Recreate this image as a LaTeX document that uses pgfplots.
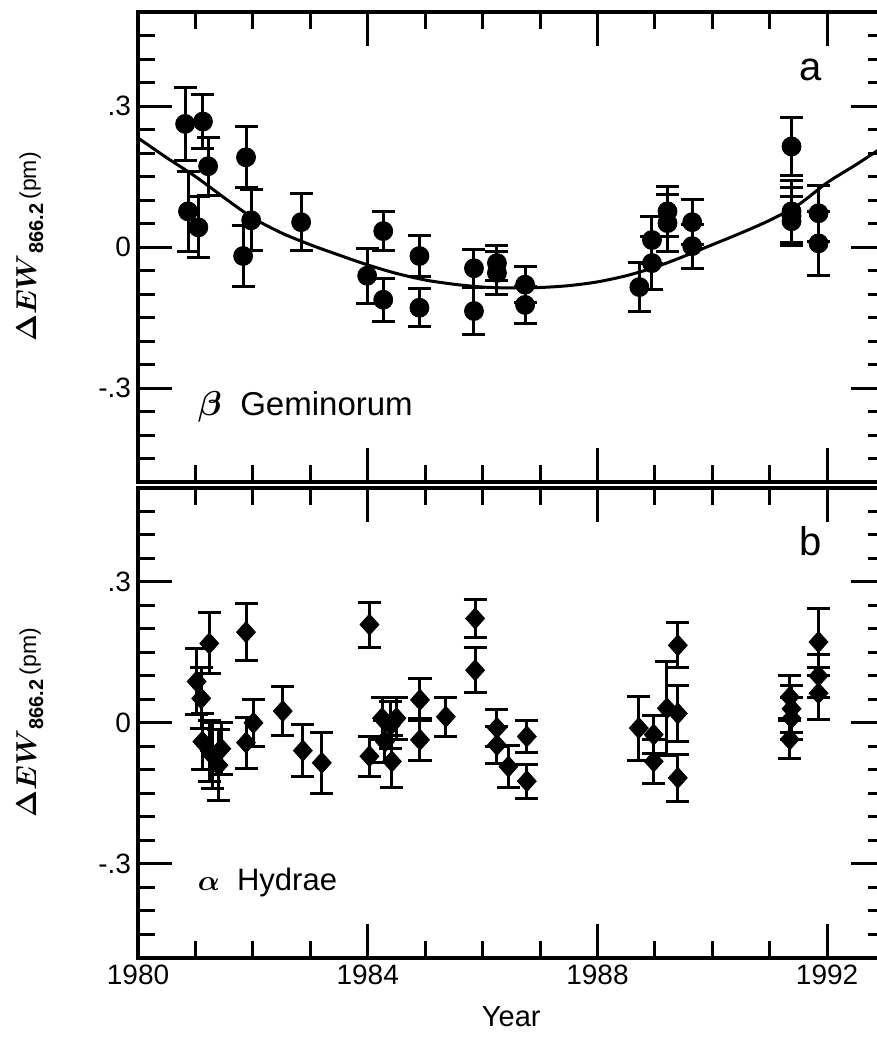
\documentclass[border=0pt]{standalone}
\usepackage{fontspec}
\setmainfont{Liberation Sans}
\usepackage{pgfplots}
\pgfplotsset{compat=1.18}
\usepackage{pgfplotstable}

\pgfplotstableread{
x y e
1980.82 0.262 0.078
1981.13 0.267 0.058
1981.22 0.172 0.062
1980.87 0.076 0.085
1981.05 0.042 0.065
1981.88 0.191 0.065
1981.97 0.057 0.065
1981.83 -0.019 0.065
1982.84 0.053 0.060
1984.27 0.034 0.042
1983.99 -0.061 0.058
1984.27 -0.112 0.046
1984.90 -0.019 0.043
1984.90 -0.129 0.040
1985.85 -0.045 0.040
1985.85 -0.136 0.050
1986.25 -0.034 0.038
1986.25 -0.055 0.045
1986.74 -0.080 0.038
1986.74 -0.123 0.040
1988.73 -0.085 0.053
1988.95 -0.034 0.056
1988.95 0.015 0.050
1989.22 0.076 0.053
1989.22 0.051 0.060
1989.65 0.053 0.048
1989.65 0.002 0.047
1991.38 0.214 0.062
1991.38 0.076 0.066
1991.38 0.066 0.060
1991.38 0.055 0.052
1991.85 0.072 0.060
1991.85 0.008 0.068
}\topdata

\pgfplotstableread{
x y e
1981.24 0.169 0.065
1981.88 0.193 0.060
1981.02 0.088 0.070
1981.10 0.052 0.065
1981.12 -0.040 0.060
1981.25 -0.060 0.065
1981.30 -0.070 0.070
1981.40 -0.090 0.075
1981.45 -0.055 0.055
1982.01 0.000 0.050
1981.88 -0.042 0.054
1982.52 0.025 0.052
1982.87 -0.059 0.055
1983.20 -0.085 0.065
1984.03 0.209 0.048
1984.03 -0.071 0.042
1984.25 0.010 0.045
1984.40 -0.005 0.050
1984.50 0.010 0.045
1984.30 -0.040 0.045
1984.42 -0.082 0.055
1984.91 0.049 0.045
1984.91 -0.036 0.045
1985.36 0.013 0.042
1985.87 0.222 0.040
1985.87 0.112 0.048
1986.25 -0.011 0.040
1986.25 -0.047 0.040
1986.45 -0.093 0.045
1986.77 -0.029 0.034
1986.77 -0.124 0.036
1988.72 -0.011 0.068
1988.98 -0.025 0.040
1988.98 -0.082 0.047
1989.21 0.031 0.100
1989.40 0.020 0.060
1989.40 0.165 0.048
1989.40 -0.117 0.050
1991.35 0.055 0.045
1991.38 0.030 0.050
1991.38 0.010 0.045
1991.35 -0.035 0.040
1991.85 0.172 0.072
1991.85 0.100 0.045
1991.85 0.063 0.055
}\botdata

\pgfplotsset{
  panel/.style={
    x=28.7pt, y=235pt,
    xmin=1980, xmax=1993, ymin=-0.5, ymax=0.5,
    axis line style={line width=2pt},
    tick align=inside,
    major tick length=17pt, minor tick length=8.5pt,
    every tick/.style={black, line width=1.5pt},
    xtick={1980,1984,1988,1992},
    minor xtick={1981,1982,1983,1985,1986,1987,1989,1990,1991,1993},
    ytick={-0.3,0,0.3}, yticklabels={-.3,0,.3},
    minor ytick={-0.45,-0.4,-0.35,-0.25,-0.2,-0.15,-0.1,-0.05,0.05,0.1,0.15,0.2,0.25,0.35,0.4,0.45},
    ticklabel style={font=\fontsize{14}{16}\selectfont},
    ylabel={{\fontsize{14}{16}\selectfont\boldmath$\Delta EW$}\textsubscript{\fontsize{10}{12}\selectfont\bfseries 866.2}\,{\fontsize{11.5}{13}\selectfont(pm)}},
    y label style={at={(axis description cs:-0.145,0.5)}, anchor=center},
  },
  errs/.style={
    only marks, black,
    error bars/.cd, y dir=both, y explicit,
    error bar style={line width=1.5pt, black},
    error mark options={rotate=90, mark size=5.75pt, line width=1.5pt, black},
  },
}

\begin{document}
\begin{tikzpicture}
\begin{axis}[panel, name=bot,
  xticklabels={1980,1984,1988,1992},
  xlabel={Year},
  x label style={font=\fontsize{14.5}{16}\selectfont, at={(axis description cs:0.5,0)}, anchor=base, yshift=-34.5pt},
]
\addplot[mark=diamond*, mark size=5.25pt, mark options={xscale=1.2, fill=black, draw=black}, errs]
  table[x=x, y=y, y error=e] {\botdata};
\node[anchor=base, font=\fontsize{20}{24}\selectfont] at (axis cs:1991.71,0.355) {b};
\node[anchor=west, font=\fontsize{15.5}{18}\selectfont] at (axis cs:1980.92,-0.34) {{\boldmath$\alpha$}\ \ Hydrae};
\end{axis}

\begin{axis}[panel, name=top, at={(bot.north west)}, anchor=south west, yshift=2.8pt,
  xticklabels={},
]
\addplot[line width=1.5pt, black, smooth] coordinates {
(1980.0,0.232) (1980.5,0.19) (1981.0,0.15) (1981.5,0.105) (1982.0,0.062)
(1982.5,0.03) (1983.0,0.005) (1983.5,-0.017) (1984.0,-0.038) (1984.5,-0.056)
(1985.0,-0.07) (1985.5,-0.079) (1986.0,-0.085) (1986.5,-0.087) (1987.0,-0.086)
(1987.5,-0.082) (1988.0,-0.074) (1988.5,-0.061) (1989.0,-0.043) (1989.5,-0.02)
(1990.0,0.005) (1990.5,0.03) (1991.0,0.057) (1991.5,0.09) (1992.0,0.137)
(1992.5,0.175) (1993.0,0.215)
};
\addplot[mark=*, mark size=4.75pt, mark options={fill=black, draw=black}, errs]
  table[x=x, y=y, y error=e] {\topdata};
\node[anchor=base, font=\fontsize{20}{24}\selectfont] at (axis cs:1991.71,0.355) {a};
\node[anchor=west, font=\fontsize{16.5}{18}\selectfont] at (axis cs:1980.92,-0.34) {{\boldmath$\beta$}\ \ Geminorum};
\end{axis}

\pgfresetboundingbox
\useasboundingbox ([shift={(-69pt,-40pt)}]bot.south west) rectangle ([shift={(-4pt,6pt)}]top.north east);
\end{tikzpicture}
\end{document}
